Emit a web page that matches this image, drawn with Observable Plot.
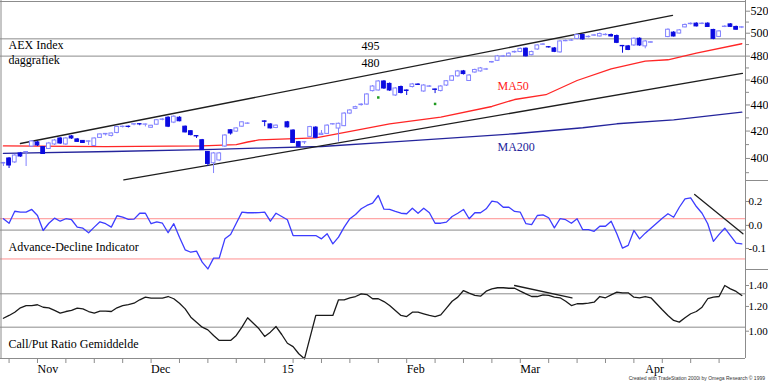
<!DOCTYPE html>
<html><head><meta charset="utf-8">
<script src="https://cdn.jsdelivr.net/npm/d3@7"></script>
<script src="https://cdn.jsdelivr.net/npm/@observablehq/plot@0.6"></script>
<style>
body{margin:0;background:#fff;}
#chart{position:relative;width:768px;height:382px;overflow:hidden;background:#fff;font-family:"Liberation Serif","Times New Roman",serif;}
#chart svg{position:absolute;left:0;}
.sep{position:absolute;left:745px;width:23px;height:0;border-top:1px solid #8c8c8c;}
#foot{position:absolute;right:3px;bottom:1px;font:5px "Liberation Sans",Arial,sans-serif;color:#333;white-space:nowrap;}
</style></head><body><div id="chart"></div>
<script>
// ---- data: trading-day index 0 = 24 Oct 2014 (weekdays), 130 = 24 Apr 2015 ----
const candleOpen = [
396.4,400.0,397.2,403.6,404.3,408.6,411.6,408.2,406.8,410.1,
414.5,410.1,416.0,413.8,412.7,412.1,409.0,414.9,417.5,416.4,
418.6,423.1,423.3,424.9,425.2,424.8,422.5,424.8,428.5,430.1,
426.4,430.1,423.3,419.9,416.3,413.2,404.7,396.6,398.6,408.6,
420.6,419.6,423.3,425.5,null,null,427.3,425.0,422.3,null,
426.6,420.4,411.8,411.6,415.7,422.6,417.0,417.9,425.0,421.9,
423.7,433.3,437.0,439.9,440.3,451.0,451.5,458.8,456.8,447.5,
454.3,451.5,454.3,456.3,450.7,454.5,452.3,451.1,455.5,459.4,
463.0,467.1,459.2,466.2,467.1,468.6,474.6,476.0,479.5,479.8,
483.2,483.5,486.4,480.8,485.7,489.8,487.7,486.6,483.2,492.9,
493.4,494.9,498.4,496.5,497.8,497.1,498.3,498.4,497.5,488.8,
488.4,489.2,495.1,488.4,491.6,null,null,496.6,500.5,499.7,
505.2,508.1,508.6,508.3,508.6,502.9,496.7,505.6,507.9,505.6,505.0];
const candleClose = [
396.8,395.0,402.1,401.4,404.6,412.3,409.4,403.2,410.8,413.0,
410.8,414.5,414.5,412.0,411.2,412.4,414.5,417.5,417.9,418.2,
423.1,423.3,423.1,425.2,425.0,425.0,424.0,428.2,428.8,423.3,
430.9,427.4,419.0,417.0,416.0,406.0,396.1,403.6,403.6,416.7,
418.2,422.0,426.6,425.7,null,null,427.0,422.0,424.1,null,
422.8,411.2,408.4,411.8,423.0,415.0,418.0,424.1,425.2,425.5,
433.3,435.7,438.3,440.3,448.3,454.7,458.8,453.1,451.5,453.1,
449.5,451.1,456.4,456.0,455.5,454.8,452.0,454.7,459.0,463.0,
467.1,464.9,463.7,468.3,469.6,468.8,475.0,479.7,479.8,482.1,
483.6,486.2,479.8,483.5,489.2,490.1,487.5,483.7,492.7,493.2,
493.6,498.4,494.5,496.8,498.1,499.3,498.6,497.1,491.5,488.5,
485.3,495.1,489.2,492.7,492.0,null,null,503.1,497.1,502.5,
507.4,508.5,506.1,508.6,505.6,495.0,501.6,505.9,505.7,503.1,505.3];
const candleHigh = [
397.2,400.7,402.9,404.3,405.0,413.0,412.3,408.6,411.6,413.8,
415.2,415.2,416.7,414.5,413.0,412.7,414.9,417.9,418.2,418.6,
423.6,423.8,423.8,425.7,425.7,425.3,424.4,428.6,429.4,430.9,
431.6,430.9,423.8,420.4,416.6,413.8,405.0,404.3,404.3,417.4,
421.0,422.5,427.0,426.2,null,null,427.8,425.5,424.6,null,
427.3,421.0,412.3,412.3,423.6,423.3,420.4,424.8,425.7,426.0,
434.0,436.4,439.0,441.0,449.1,455.5,459.6,459.6,457.6,453.9,
455.1,451.9,457.2,457.0,456.3,455.5,452.7,455.5,459.6,463.7,
467.9,467.9,464.5,469.0,470.4,469.6,475.5,480.6,480.6,483.0,
484.3,487.0,487.1,484.3,489.9,490.9,488.3,487.4,493.6,494.0,
494.5,499.3,499.3,497.6,498.9,500.2,499.5,499.3,498.4,489.2,
489.2,495.9,495.9,493.6,492.7,null,null,504.0,501.4,503.3,
508.3,509.3,509.4,509.4,509.4,503.5,502.3,506.8,508.6,506.4,506.0];
const candleLow = [
394.3,392.9,396.4,400.7,394.3,407.9,408.6,402.9,406.4,409.4,
410.1,409.4,413.8,411.6,410.8,409.4,408.6,414.5,416.3,415.6,
417.9,422.3,422.3,424.0,424.0,423.1,422.0,424.4,427.8,422.6,
425.6,427.0,418.6,416.4,414.5,405.7,394.3,389.4,397.9,407.9,
417.0,419.0,422.8,425.0,null,null,423.3,421.6,421.8,null,
422.3,410.8,407.9,410.1,415.2,414.5,416.7,417.4,424.4,411.9,
423.3,432.5,436.4,439.1,439.6,450.3,451.0,452.3,450.7,446.7,
448.7,447.5,453.5,455.5,450.0,454.0,449.0,450.3,454.7,458.8,
462.3,464.1,458.8,465.5,466.5,467.9,474.0,475.4,478.8,479.3,
482.5,483.0,479.3,480.3,485.0,489.4,486.9,483.0,482.5,492.5,
492.9,494.2,493.8,495.8,497.1,496.6,497.7,496.6,490.8,482.5,
484.7,488.4,488.4,486.3,491.0,null,null,496.0,496.6,499.3,
504.8,507.4,505.6,507.7,505.2,494.2,496.1,505.0,505.2,502.7,504.1];

const ma50Idx = [0,18,35,41,43,45,55,62,68,77,86,90,95.5,101,107,113,117,122,130];
const ma50Val = [409.0,408.5,409.0,410.0,411.9,413.4,414.9,420.5,425.5,430.5,438.8,444.3,448.1,459.6,469.3,475.7,476.9,482.5,490.7];
const ma200Idx = [0,19,37,45,56,70,90,102,108,118,130];
const ma200Val = [403.6,405.0,406.5,407.5,408.6,412.3,418.0,422.5,425.5,428.5,434.4];

const upperTrendIdx = [3.0,117.8], upperTrendVal = [410.8,516.1];
const lowerTrendIdx = [21.2,130.1], lowerTrendVal = [385.1,465.4];
const priceLevels = [495,480];
const greenIdx = [66,76], greenVal = [445.9,440.8];

const adValues = [
0.043,0.013,0.102,0.094,0.094,0.118,0.067,-0.028,0.013,0.047,
0.026,0.043,0.036,-0.010,-0.016,-0.039,-0.010,0.022,0.010,-0.010,
0.065,0.054,0.038,0.040,0.085,0.085,0.010,0.022,0.013,-0.039,
0.010,-0.059,-0.104,-0.111,-0.108,-0.135,-0.148,-0.126,-0.126,-0.066,
-0.047,0.013,0.094,0.089,0.089,0.091,0.094,0.026,0.085,0.059,
0.036,-0.052,-0.052,-0.052,-0.052,-0.052,-0.066,-0.044,-0.085,-0.059,
-0.010,0.043,0.075,0.124,0.157,0.181,0.275,0.121,0.118,0.100,
0.085,0.081,0.130,0.085,0.130,0.089,0.013,0.013,0.020,0.059,
0.085,0.118,0.043,0.089,0.089,0.124,0.203,0.192,0.139,0.139,
0.100,0.094,0.010,0.005,0.067,0.072,0.050,-0.014,0.043,0.036,
0.013,0.043,-0.024,-0.024,-0.032,-0.005,-0.005,0.026,-0.044,-0.099,
-0.090,-0.028,-0.066,-0.041,-0.016,0.013,0.047,0.081,0.054,0.139,
0.232,0.245,0.146,0.085,0.010,-0.076,-0.047,-0.016,-0.052,-0.082,-0.085];
const adBands = [0.043,-0.128];
const adMidLine = [-0.026];
const adTicks = [0.2,0.0,-0.1];
const adTrendIdx = [121.7,130.2], adTrendVal = [0.289,-0.044];

const cpValues = [
1.100,1.123,1.150,1.188,1.208,1.208,1.215,1.193,1.188,1.165,
1.142,1.156,1.165,1.185,1.179,1.156,1.142,1.159,1.159,1.156,
1.188,1.208,1.217,1.229,1.260,1.285,1.275,1.275,1.275,1.291,
1.270,1.229,1.179,1.109,1.069,1.030,1.010,0.969,0.934,0.934,
0.934,0.969,1.030,1.104,1.061,1.018,0.962,0.993,1.035,0.976,
0.915,0.893,0.847,0.816,0.957,1.123,1.123,1.123,1.123,1.260,
1.260,1.279,1.291,1.317,1.310,1.270,1.270,1.244,1.208,1.165,
1.123,1.114,1.150,1.150,1.137,1.123,1.114,1.128,1.185,1.247,
1.285,1.349,1.323,1.301,1.294,1.343,1.366,1.377,1.377,1.372,
1.372,1.343,1.317,1.291,1.291,1.307,1.301,1.285,1.279,1.247,
1.208,1.224,1.224,1.229,1.238,1.291,1.279,1.307,1.333,1.327,
1.327,1.285,1.279,1.291,1.279,1.224,1.171,1.123,1.082,1.069,
1.104,1.137,1.156,1.193,1.270,1.285,1.291,1.400,1.366,1.340,1.301];
const cpLevels = [1.317,1.030];
const cpTicks = [1.4,1.2,1.0];
const cpTrendIdx = [90.0,100.1], cpTrendVal = [1.400,1.279];

const priceTicks = [400,420,440,460,480,500,520];
const priceMinorTicks = [390,410,430,450,470,490,510];
const monthLabels = ["Nov","Dec","15","Feb","Mar","Apr"];
const monthIdx = [6,26,49,71,91,113];
const weekTicks = d3.range(1,131,5);

// ---- scales / layout ----
const X_DOMAIN = [-0.51, 130.65];
const PRICE_DOMAIN = [384.6, 530.0];
const AD_OFFSET = 0.21;
const AD_DOMAIN = [0.06103, 0.7381];
const CP_DOMAIN = [0.8179, 1.5751];
const FONT = "'Liberation Serif','Times New Roman',serif";
const UP = "#8282ff", DOWN = "#0b0be0", GRID = "#8c8c8c";
const HALF = 0.33;

const candles = candleOpen.map((o,i) => o == null ? null :
  ({i, open:o, close:candleClose[i], high:candleHigh[i], low:candleLow[i]})).filter(d => d);
const ups = candles.filter(d => d.close >= d.open);
const downs = candles.filter(d => d.close < d.open);
const pairs = (a,b) => a.map((x,k) => ({i:x, v:b[k]}));
const ma50 = pairs(ma50Idx, ma50Val), ma200 = pairs(ma200Idx, ma200Val);
const adData = adValues.map((v,i) => ({i, v}));
const cpData = cpValues.map((v,i) => ({i, v}));
const label = (t, dx, dy, extra={}) => Plot.text([t], {frameAnchor:"top-left", dx, dy, lineAnchor:"middle", textAnchor:"start", fontSize:12, ...extra});
const common = {width:768, marginLeft:0, marginRight:23, marginTop:0,
  style:{fontFamily:FONT, fontSize:"12px", background:"transparent", overflow:"visible"}};
const frameRules = () => [
  Plot.ruleX([X_DOMAIN[1]], {stroke:GRID}),
  Plot.ruleX([X_DOMAIN[0]], {stroke:GRID, dx:0.5})
];

const p1 = Plot.plot({...common, height:180, marginBottom:0,
  x:{domain:X_DOMAIN, axis:null, label:null},
  y:{type:"log", domain:PRICE_DOMAIN, label:null},
  marks:[
    Plot.ruleY(priceLevels, {stroke:GRID}),
    Plot.ruleY([PRICE_DOMAIN[1]], {stroke:GRID, dy:1}),
    Plot.line(ma200, {x:"i", y:"v", stroke:"#25259c", strokeWidth:1.3}),
    Plot.line(ma50, {x:"i", y:"v", stroke:"#ff2626", strokeWidth:1.3}),
    Plot.line(pairs(upperTrendIdx, upperTrendVal), {x:"i", y:"v", stroke:"#1e1e1e", strokeWidth:1.3}),
    Plot.line(pairs(lowerTrendIdx, lowerTrendVal), {x:"i", y:"v", stroke:"#1e1e1e", strokeWidth:1.3}),
    Plot.ruleX(ups, {x:"i", y1:"low", y2:"high", stroke:UP}),
    Plot.ruleX(downs, {x:"i", y1:"low", y2:"high", stroke:DOWN}),
    Plot.rect(ups, {x1:d => d.i - HALF, x2:d => d.i + HALF, y1:"open", y2:"close", fill:"white", stroke:UP}),
    Plot.rect(downs, {x1:d => d.i - HALF, x2:d => d.i + HALF, y1:"open", y2:"close", fill:DOWN, stroke:DOWN}),
    Plot.dot(pairs(greenIdx, greenVal), {x:"i", y:"v", r:1.4, symbol:"square", fill:"#1f9a1f"}),
    label("AEX Index", 8, 45),
    label("daggrafiek", 8, 60),
    Plot.text(priceLevels, {y:d => d, frameAnchor:"left", dx:361, dy:7, text:d => String(d), textAnchor:"start", lineAnchor:"middle", fontSize:12}),
    label("MA50", 497, 85.5, {fill:"#ff1a1a"}),
    label("MA200", 497, 147, {fill:"#22229a"}),
    Plot.axisY({anchor:"right", label:null, ticks:priceTicks, tickSize:4, tickPadding:1, tickFormat:d3.format("d"), fontSize:12, stroke:GRID, fill:"black"}),
    Plot.axisY({anchor:"right", label:null, ticks:priceMinorTicks, tickSize:3, tickFormat:() => "", stroke:GRID}),
    ...frameRules()
  ]});

const p2 = Plot.plot({...common, height:89, marginBottom:0,
  x:{domain:X_DOMAIN, axis:null, label:null},
  y:{type:"log", domain:AD_DOMAIN, label:null},
  marks:[
    Plot.ruleY(adBands, {y:d => d + AD_OFFSET, stroke:"#ff8f8f"}),
    Plot.ruleY(adMidLine, {y:d => d + AD_OFFSET, stroke:GRID}),
    Plot.line(adData, {x:"i", y:d => d.v + AD_OFFSET, stroke:"#3d3dff", strokeWidth:1.3}),
    Plot.line(pairs(adTrendIdx, adTrendVal), {x:"i", y:d => d.v + AD_OFFSET, stroke:"#1e1e1e", strokeWidth:1.3}),
    label("Advance-Decline Indicator", 8, 67),
    Plot.axisY({anchor:"right", label:null, ticks:adTicks.map(v => v + AD_OFFSET), tickFormat:d => (d - AD_OFFSET).toFixed(1), tickSize:3, tickPadding:0, fontSize:11, stroke:GRID, fill:"black"}),
    ...frameRules()
  ]});

const p3 = Plot.plot({...common, height:113, marginBottom:24,
  x:{domain:X_DOMAIN, label:null},
  y:{type:"log", domain:CP_DOMAIN, label:null},
  marks:[
    Plot.ruleY(cpLevels, {stroke:GRID}),
    Plot.line(cpData, {x:"i", y:"v", stroke:"#1a1a1a", strokeWidth:1.3}),
    Plot.line(pairs(cpTrendIdx, cpTrendVal), {x:"i", y:"v", stroke:"#1e1e1e", strokeWidth:1.3}),
    label("Call/Put Ratio Gemiddelde", 8, 75),
    Plot.axisY({anchor:"right", label:null, ticks:cpTicks, tickFormat:d3.format(".2f"), tickSize:3, tickPadding:0, fontSize:11, stroke:GRID, fill:"black"}),
    Plot.ruleY([CP_DOMAIN[0]], {stroke:GRID}),
    Plot.axisX({label:null, ticks:weekTicks, tickSize:5, tickFormat:() => "", stroke:GRID}),
    Plot.axisX({label:null, ticks:monthIdx, tickSize:0, tickPadding:6, tickFormat:d => monthLabels[monthIdx.indexOf(d)], textAnchor:"start", fontSize:12, fill:"black"}),
    ...frameRules()
  ]});

const root = document.getElementById("chart");
[[p1,0],[p2,180],[p3,269]].forEach(([svg,top]) => { svg.style.top = top + "px"; root.appendChild(svg); });
[180,269].forEach(t => { const s = document.createElement("div"); s.className = "sep"; s.style.top = t + "px"; root.appendChild(s); });
const foot = document.createElement("div"); foot.id = "foot";
foot.textContent = "Created with TradeStation 2000i by Omega Research © 1999";
root.appendChild(foot);
</script></body></html>
